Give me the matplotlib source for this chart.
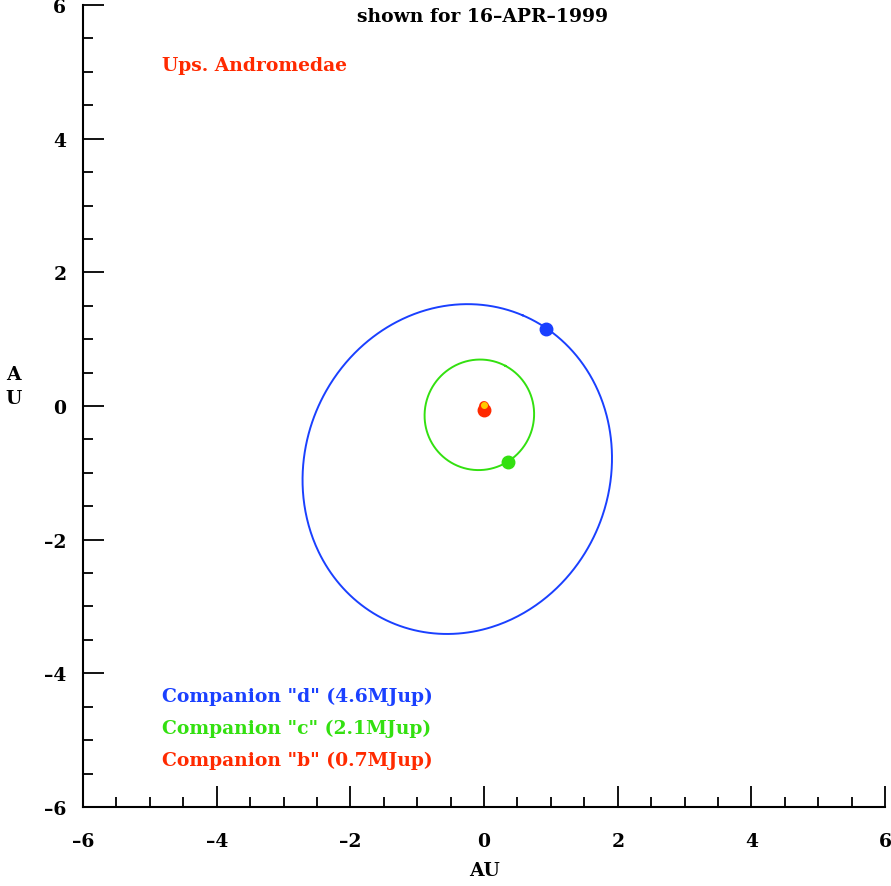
import numpy as np
import matplotlib.pyplot as plt

# orbital elements of the three companions (AU, eccentricity, periastron angle in deg)
names = ['Companion "d" (4.6MJup)', 'Companion "c" (2.1MJup)', 'Companion "b" (0.7MJup)']
semi_major = [2.50, 0.83, 0.059]
ecc = [0.41, 0.18, 0.0]
peri_angle = [67.0, 62.0, 0.0]
# planet positions on 16-APR-1999
planet_x = [0.93, 0.36, 0.0]
planet_y = [1.15, -0.84, -0.06]
colors = ['#1a40ff', '#33e010', '#ff2a00']

serif = 'DejaVu Serif'
fs = 13.5

fig = plt.figure(figsize=(8.91, 8.87), dpi=100)
ax = fig.add_axes([0.0932, 0.0891, 0.9001, 0.9041])

nu = np.linspace(0, 2 * np.pi, 600)
for a, e, w, c in zip(semi_major, ecc, peri_angle, colors):
    r = a * (1 - e ** 2) / (1 + e * np.cos(nu))
    th = nu + np.radians(w)
    ax.plot(r * np.cos(th), r * np.sin(th), color=c, lw=1.4)

for px, py, c in zip(planet_x, planet_y, colors):
    ax.plot(px, py, 'o', color=c, ms=9, mec=c)

# the star
ax.plot(0, 0.01, 'o', color='#ffcc00', ms=4, zorder=5)

ax.set_xlim(-6, 6)
ax.set_ylim(-6, 6)
ax.spines['top'].set_visible(False)
ax.spines['right'].set_visible(False)
ax.spines['left'].set_linewidth(1.5)
ax.spines['bottom'].set_linewidth(1.5)

ticks = np.arange(-6, 7, 2)
ax.set_xticks(ticks)
ax.set_yticks(ticks)
ax.set_xticks(np.arange(-6, 6.1, 0.5), minor=True)
ax.set_yticks(np.arange(-6, 6.1, 0.5), minor=True)
ax.set_xticklabels(['\u2013%d' % -t if t < 0 else '%d' % t for t in ticks])
ax.set_yticklabels(['\u2013%d' % -t if t < 0 else '%d' % t for t in ticks])
ax.tick_params(which='major', direction='in', length=15, width=1.3)
ax.tick_params(which='minor', direction='in', length=7, width=1.3)
for lab in ax.get_xticklabels() + ax.get_yticklabels():
    lab.set_fontfamily(serif)
    lab.set_fontweight('bold')
    lab.set_fontsize(fs)
ax.tick_params(axis='y', pad=12)
ax.tick_params(axis='x', pad=18)

ax.set_xlabel('AU', fontfamily=serif, fontweight='bold', fontsize=fs, labelpad=8)
fig.text(0.015, 0.564, 'A\nU', fontfamily=serif, fontweight='bold', fontsize=fs,
         ha='center', va='center', linespacing=1.45)

ax.text(-1.9, 5.84, 'shown for 16\u2013APR\u20131999', fontfamily=serif, fontweight='bold',
        fontsize=fs, va='center', ha='left')
ax.text(-4.82, 5.1, 'Ups. Andromedae', color=colors[2], fontfamily=serif,
        fontweight='bold', fontsize=fs, va='center')
for i, (n, c) in enumerate(zip(names, colors)):
    ax.text(-4.82, -4.34 - 0.48 * i, n, color=c, fontfamily=serif,
            fontweight='bold', fontsize=fs, va='center')

fig.savefig('out.png', dpi=100)
